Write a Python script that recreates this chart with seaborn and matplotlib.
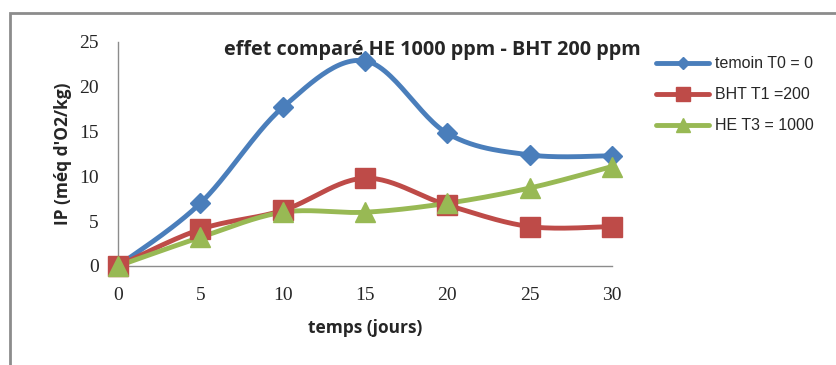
import numpy as np
import pandas as pd
import matplotlib
matplotlib.use("Agg")
import matplotlib.pyplot as plt
import seaborn as sns
from matplotlib.lines import Line2D
from matplotlib.patches import Rectangle

days = [0, 5, 10, 15, 20, 25, 30]
temoin = [0, 7.0, 17.7, 22.9, 14.8, 12.4, 12.3]
bht = [0, 4.1, 6.2, 9.8, 6.8, 4.4, 4.4]
he = [0, 3.2, 6.0, 6.0, 7.0, 8.7, 11.1]
labels = ["temoin T0 = 0", "BHT T1 =200", "HE T3 = 1000"]
colors = ["#4a7ebb", "#be4b48", "#98b954"]
markers = ["D", "s", "^"]
msizes = [10.5, 14, 14]

sns.set_style("white")
plt.rcParams['font.family'] = ['DejaVu Sans']

def smooth(x, y, n=30):
    # Catmull-Rom style smoothing like spreadsheet smoothed lines
    x = np.asarray(x, float); y = np.asarray(y, float)
    P = np.column_stack([x, y])
    P = np.vstack([P[0], P, P[-1]])
    out = []
    for i in range(1, len(P) - 2):
        p0, p1, p2, p3 = P[i - 1], P[i], P[i + 1], P[i + 2]
        t = np.linspace(0, 1, n)[:, None]
        c = 0.5 * ((2 * p1) + (-p0 + p2) * t + (2 * p0 - 5 * p1 + 4 * p2 - p3) * t ** 2
                   + (-p0 + 3 * p1 - 3 * p2 + p3) * t ** 3)
        out.append(c if i == len(P) - 3 else c[:-1])
    c = np.vstack(out)
    return c[:, 0], c[:, 1]

fig = plt.figure(figsize=(8.36, 3.65), dpi=100)
fig.patches.append(Rectangle((10/836, -0.1), 1.2, 1 - 13/365 + 0.1, transform=fig.transFigure,
                             fill=False, edgecolor="#8c8c8c", linewidth=2))
ax = fig.add_axes([118/836, 1 - 266/365, (612 - 118)/836, (266 - 42)/365])

for ys, lab, col, mk, ms in zip([temoin, bht, he], labels, colors, markers, msizes):
    sx, sy = smooth(days, ys)
    df = pd.DataFrame({"x": sx, "y": sy})
    sns.lineplot(data=df, x="x", y="y", ax=ax, color=col, linewidth=3.5, sort=False,
                 estimator=None, zorder=2)
    dd = pd.DataFrame({"x": days, "y": ys})
    ax.plot(dd["x"], dd["y"], linestyle="none", marker=mk, markersize=ms, color=col,
            markeredgecolor=col, zorder=3, clip_on=False)

ax.set_xlim(0, 30)
ax.set_ylim(0, 25)
ax.set_xticks(range(0, 31, 5))
ax.set_yticks(range(0, 26, 5))
for s in ["top", "right"]:
    ax.spines[s].set_visible(False)
for s in ["left", "bottom"]:
    ax.spines[s].set_color("#8c8c8c")
    ax.spines[s].set_linewidth(1)
ax.tick_params(axis="both", direction="out", length=5, color="#8c8c8c", width=1,
               labelsize=14, pad=4)
ax.tick_params(axis="y", pad=9)
ax.tick_params(axis="x", pad=10)
for t in ax.get_xticklabels() + ax.get_yticklabels():
    t.set_fontfamily("Liberation Serif")
ax.set_xlabel("temps (jours)", fontsize=12.5, fontweight="bold", fontfamily="Open Sans", labelpad=11)
ax.set_ylabel("IP (méq d'O2/kg)", fontsize=12.5, fontweight="bold", fontfamily="Open Sans", labelpad=5)
fig.text(432/836, 1 - 50/365, "effet comparé HE 1000 ppm - BHT 200 ppm", ha="center", va="center",
         fontsize=14.3, fontweight="bold", fontfamily="Open Sans")

handles = [Line2D([0], [0], color=c, lw=3.5, marker=m, markersize=s * 0.75 if m != "D" else 6)
           for c, m, s in zip(colors, markers, msizes)]
leg = fig.legend(handles, labels, loc="upper left", bbox_to_anchor=(650/836, 1 - 50/365),
                 frameon=False, fontsize=11.5, handlelength=3.3, labelspacing=1.0,
                 handletextpad=0.35, borderaxespad=0)
for t in leg.get_texts():
    t.set_fontfamily("Liberation Sans")

fig.savefig("out.png", dpi=100)
